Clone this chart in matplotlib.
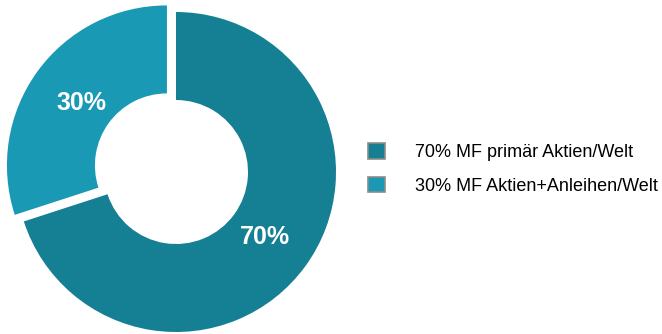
import numpy as np
import matplotlib.pyplot as plt
from matplotlib.patches import Patch

# ================ Data ================
labels = ["70% MF primär Aktien/Welt", "30% MF Aktien+Anleihen/Welt"]
shares = [70, 30]
pct_text = ["70%", "30%"]

# ================ Style ================
_COLORS  = ["#157F93", "#1999B4"]
_EDGE    = "#8C8C8C"
_EXPLODE = [0, 0.07]
_PCT_R   = [0.69, 0.73]

plt.rcParams["font.family"] = ["Liberation Sans", "DejaVu Sans"]

fig = plt.figure(figsize=(6.62, 3.34), dpi=100)
# centre at (176, 172) px, radius 160 px
ax = fig.add_axes([16 / 662, 2 / 334, 320 / 662, 320 / 334])

wedges, texts = ax.pie(
    shares,
    colors=_COLORS,
    startangle=90,
    counterclock=False,
    explode=_EXPLODE,
    radius=1.0,
    wedgeprops=dict(width=0.55, linewidth=0),
)
ax.set_xlim(-1, 1)
ax.set_ylim(-1, 1)
ax.set_aspect("equal")
ax.axis("off")
for w in wedges:
    w.set_clip_on(False)

# -------- percentage labels in the ring --------
start = 90.0
for txt, share, r in zip(pct_text, shares, _PCT_R):
    mid = np.deg2rad(start - share * 3.6 / 2)
    start -= share * 3.6
    ax.text(r * np.cos(mid), r * np.sin(mid), txt, color="white",
            fontsize=18, fontweight="bold", ha="center", va="center")

# -------- legend --------
handles = [Patch(facecolor=c, edgecolor=_EDGE, linewidth=1.2) for c in _COLORS]
fig.legend(
    handles, labels,
    loc="center left",
    bbox_to_anchor=(368 / 662, 1 - 169 / 334),
    frameon=False,
    fontsize=13,
    handlelength=0.94,
    handleheight=0.94,
    handletextpad=1.66,
    labelspacing=0.88,
    borderpad=0,
    borderaxespad=0,
)

fig.savefig("out.png", dpi=100)
